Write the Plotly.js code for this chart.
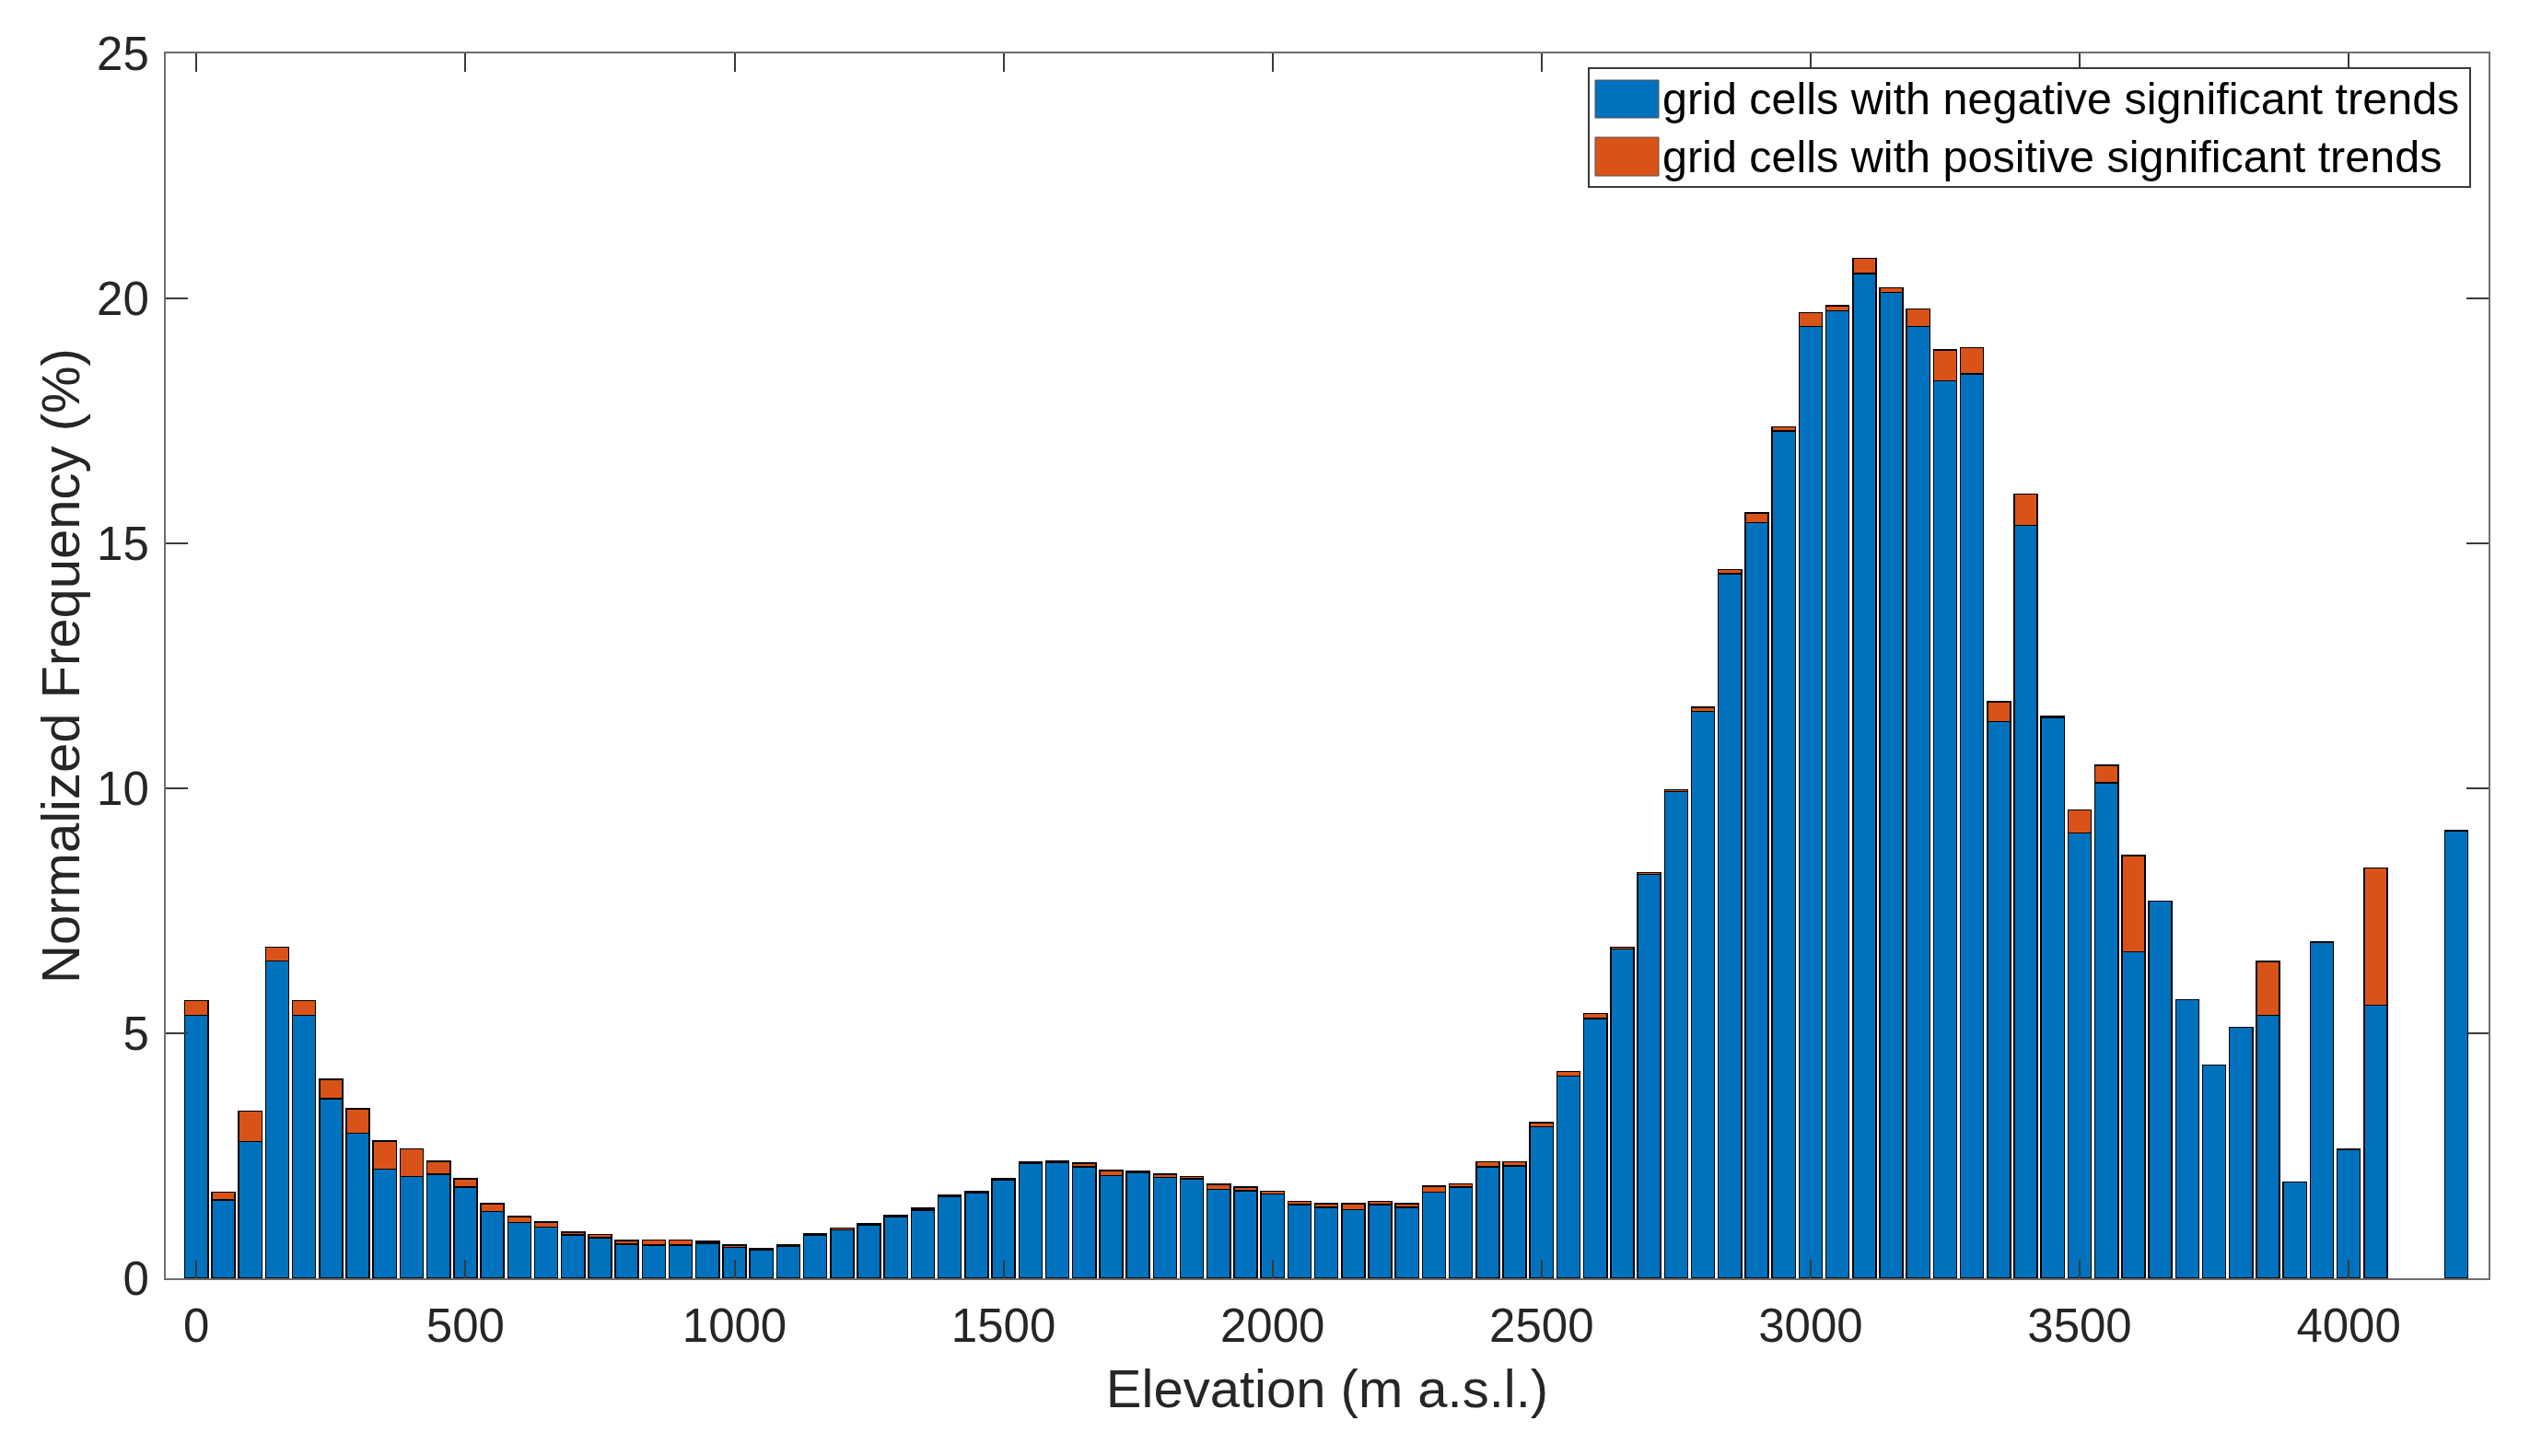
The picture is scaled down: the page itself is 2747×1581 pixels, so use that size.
<!DOCTYPE html>
<html>
<head>
<meta charset="utf-8">
<script src="https://cdn.plot.ly/plotly-3.0.1.min.js"></script>
<style>
  html, body { margin: 0; padding: 0; background: #ffffff; }
  #chart { width: 2747px; height: 1581px; }
</style>
</head>
<body>
<div id="chart"></div>
<script>
// Elevation bins (m a.s.l.), 50 m step
const elevation = [
  0, 50, 100, 150, 200, 250, 300, 350, 400, 450,
  500, 550, 600, 650, 700, 750, 800, 850, 900, 950,
  1000, 1050, 1100, 1150, 1200, 1250, 1300, 1350, 1400, 1450,
  1500, 1550, 1600, 1650, 1700, 1750, 1800, 1850, 1900, 1950,
  2000, 2050, 2100, 2150, 2200, 2250, 2300, 2350, 2400, 2450,
  2500, 2550, 2600, 2650, 2700, 2750, 2800, 2850, 2900, 2950,
  3000, 3050, 3100, 3150, 3200, 3250, 3300, 3350, 3400, 3450,
  3500, 3550, 3600, 3650, 3700, 3750, 3800, 3850, 3900, 3950,
  4000, 4050, 4100, 4150, 4200
];

// Normalized frequency (%) of grid cells with negative significant trends
// (null = empty bin, no bar drawn)
const negativeTrends = [
  5.37, 1.60, 2.79, 6.48, 5.37, 3.67, 2.96, 2.23, 2.08, 2.12,
  1.86, 1.36, 1.14, 1.04, 0.88, 0.83, 0.70, 0.68, 0.68, 0.71,
  0.63, 0.58, 0.66, 0.88, 0.99, 1.09, 1.25, 1.39, 1.66, 1.75,
  2.01, 2.34, 2.36, 2.27, 2.10, 2.16, 2.06, 2.03, 1.81, 1.79,
  1.72, 1.50, 1.45, 1.40, 1.50, 1.45, 1.76, 1.86, 2.27, 2.29,
  3.09, 4.13, 5.30, 6.72, 8.24, 9.93, 11.57, 14.38, 15.42, 17.29,
  19.43, 19.75, 20.51, 20.12, 19.43, 18.32, 18.46, 11.36, 15.37, 11.44,
  9.09, 10.11, 6.66, 7.70, 5.69, 4.35, 5.12, 5.37, 1.96, 6.86,
  2.63, 5.57, null, null, 9.14
];

// Normalized frequency (%) of grid cells with positive significant trends (stacked on top)
const positiveTrends = [
  0.30, 0.16, 0.62, 0.28, 0.30, 0.39, 0.50, 0.57, 0.56, 0.27,
  0.17, 0.16, 0.12, 0.11, 0.06, 0.06, 0.07, 0.10, 0.10, 0.04,
  0.05, 0.02, 0.03, 0.03, 0.03, 0.03, 0.03, 0.04, 0.03, 0.03,
  0.03, 0.03, 0.03, 0.08, 0.10, 0.03, 0.06, 0.05, 0.11, 0.07,
  0.06, 0.07, 0.07, 0.12, 0.07, 0.07, 0.12, 0.07, 0.11, 0.09,
  0.09, 0.09, 0.10, 0.04, 0.04, 0.04, 0.08, 0.08, 0.20, 0.09,
  0.28, 0.10, 0.31, 0.10, 0.35, 0.63, 0.53, 0.41, 0.64, 0.03,
  0.47, 0.36, 1.97, 0, 0, 0, 0, 1.10, 0, 0,
  0, 2.80, null, null, 0
];

const seriesNames = [
  'grid cells with negative significant trends',
  'grid cells with positive significant trends'
];
const seriesColors = ['#0072BD', '#D95319'];

const xTicks = [0, 500, 1000, 1500, 2000, 2500, 3000, 3500, 4000];
const yTicks = [0, 5, 10, 15, 20, 25];

const textColor = '#262626';
const fontFamily = '"Liberation Sans", Arial, Helvetica, sans-serif';

const W = 2747, H = 1581;
const M = { l: 180, r: 45, t: 58, b: 193 };
const PW = W - M.l - M.r, PH = H - M.t - M.b;
const px = x => (x - M.l) / PW;
const py = y => (H - M.b - y) / PH;

const traces = [negativeTrends, positiveTrends].map((vals, k) => ({
  type: 'bar',
  x: elevation,
  y: vals,
  name: seriesNames[k],
  marker: { color: seriesColors[k], line: { color: '#000000', width: 1.5 } },
  showlegend: false,
  hoverinfo: 'x+y+name'
}));

// Legend drawn as a boxed key (shapes + text)
const legendShapes = [
  { type: 'rect', xref: 'paper', yref: 'paper',
    x0: px(1725), x1: px(2682), y0: py(74), y1: py(203),
    line: { color: '#3a3a3a', width: 2 }, fillcolor: '#ffffff', layer: 'above' },
  { type: 'rect', xref: 'paper', yref: 'paper',
    x0: px(1732), x1: px(1801), y0: py(87), y1: py(128),
    line: { color: '#555555', width: 1 }, fillcolor: seriesColors[0], layer: 'above' },
  { type: 'rect', xref: 'paper', yref: 'paper',
    x0: px(1732), x1: px(1801), y0: py(149), y1: py(191),
    line: { color: '#555555', width: 1 }, fillcolor: seriesColors[1], layer: 'above' }
];
const legendText = [
  { xref: 'paper', yref: 'paper', x: px(1803), y: py(107), xanchor: 'left', yanchor: 'middle',
    text: seriesNames[0], showarrow: false, font: { size: 48.5, color: '#000000', family: fontFamily } },
  { xref: 'paper', yref: 'paper', x: px(1803), y: py(170), xanchor: 'left', yanchor: 'middle',
    text: seriesNames[1], showarrow: false, font: { size: 48.5, color: '#000000', family: fontFamily } }
];

const layout = {
  width: W, height: H,
  margin: M,
  paper_bgcolor: '#ffffff',
  plot_bgcolor: '#ffffff',
  barmode: 'stack',
  bargap: 0.14,
  showlegend: false,
  font: { family: fontFamily, color: textColor, size: 51 },
  xaxis: {
    range: [-57, 4260],
    tickvals: xTicks,
    ticktext: xTicks.map(String),
    ticks: 'inside', ticklen: 20, tickwidth: 2, tickcolor: '#3a3a3a',
    ticklabelstandoff: 6,
    showline: true, linecolor: '#6e6e6e', linewidth: 2, mirror: 'ticks',
    showgrid: false, zeroline: false,
    tickfont: { size: 51, color: textColor },
    title: { text: 'Elevation (m a.s.l.)', font: { size: 58, color: textColor }, standoff: 20 }
  },
  yaxis: {
    range: [0, 25],
    tickvals: yTicks,
    ticktext: yTicks.map(String),
    ticks: 'inside', ticklen: 24, tickwidth: 2, tickcolor: '#3a3a3a',
    ticklabelstandoff: 6,
    showline: true, linecolor: '#6e6e6e', linewidth: 2, mirror: 'ticks',
    showgrid: false, zeroline: false,
    tickfont: { size: 51, color: textColor },
    title: { text: 'Normalized Frequency (%)', font: { size: 58, color: textColor }, standoff: 0 }
  },
  shapes: legendShapes,
  annotations: legendText
};

Plotly.newPlot('chart', traces, layout, { displayModeBar: false, staticPlot: true });
</script>
</body>
</html>
